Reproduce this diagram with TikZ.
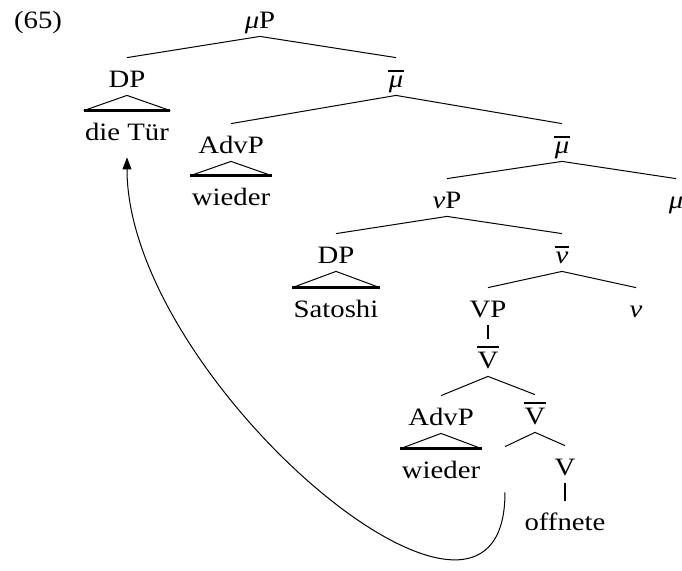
\documentclass[tikz,border=0pt]{standalone}
\usepackage{fontspec}
\setmainfont{Liberation Serif}[FakeStretch=1.15]
\usepackage{tikz}
\usetikzlibrary{arrows.meta}

\newcommand{\barlabel}[1]{\leavevmode\vbox{\hrule height 1.4pt\kern 1.6pt\hbox{\kern0.3pt#1\kern0.3pt}}}

\begin{document}
\begin{tikzpicture}[
        x=0.5pt, y=-0.5pt,
        every node/.style={font=\fontsize{12.5}{15}\selectfont},
        lbl/.style={anchor=base, inner xsep=0.5pt, inner ysep=0pt, text height=14.5pt, text depth=4pt},
        branch/.style={line width=0.5pt},
        unary/.style={line width=1.4pt},
        roofbase/.style={line width=1.3pt},
        movearrow/.style={line width=0.5pt, -{Triangle[length=6pt, width=4.5pt]}, shorten <=4pt, shorten >=4.5pt}
        ]
        \useasboundingbox (0,0) rectangle (682,570);

        % Nodes
        \node[anchor=base west] (ex) at (7,28) {(65)};
        \node[lbl] (muP) at (260,28) {\textit{μ}P};
        \node[lbl] (DPa) at (127,87) {DP};
        \node[lbl] (dieTuer) at (127,140) {die Tür};
        \node[lbl] (mubarA) at (396,87) {\barlabel{\textit{μ}}};
        \node[lbl] (AdvPa) at (231,153) {AdvP};
        \node[lbl] (wiederA) at (231,205) {wieder};
        \node[lbl] (mubarB) at (562,153) {\barlabel{\textit{μ}}};
        \node[lbl] (vP) at (447,208) {\textit{ν}P};
        \node[lbl] (muH) at (676,208) {\textit{μ}};
        \node[lbl] (DPb) at (336,263) {DP};
        \node[lbl] (Satoshi) at (336,317) {Satoshi};
        \node[lbl] (vbar) at (562,263) {\barlabel{\textit{ν}}};
        \node[lbl] (VP) at (488,317) {VP};
        \node[lbl] (vH) at (636,317) {\textit{ν}};
        \node[lbl] (Vbar) at (488,368) {\barlabel{V}};
        \node[lbl] (AdvPb) at (441,425) {AdvP};
        \node[lbl] (wiederB) at (441,478) {wieder};
        \node[lbl] (Vbarb) at (535,424) {\barlabel{V}};
        \node[lbl] (trace) at (505,476) {};
        \node[lbl] (VH) at (565,475) {V};
        \node[lbl] (offnete) at (565,530) {offnete};

        % Branches
        \draw[branch] (muP.south) -- (DPa.north) (muP.south) -- (mubarA.north);
        \draw[branch] (mubarA.south) -- (AdvPa.north) (mubarA.south) -- (mubarB.north);
        \draw[branch] (mubarB.south) -- (vP.north) (mubarB.south) -- (muH.north);
        \draw[branch] (vP.south) -- (DPb.north) (vP.south) -- (vbar.north);
        \draw[branch] (vbar.south) -- (VP.north) (vbar.south) -- (vH.north);
        \draw[branch] (Vbar.south) -- (AdvPb.north) (Vbar.south) -- (Vbarb.north);
        \draw[branch] (Vbarb.south) -- (trace.north) (Vbarb.south) -- (VH.north);
        \draw[unary] (VP.south) -- (Vbar.north);
        \draw[unary] (VH.south) -- (offnete.north);

        % Roofs
        \draw[branch] (dieTuer.north west) -- (DPa.south) -- (dieTuer.north east);
        \draw[roofbase] (dieTuer.north west) -- (dieTuer.north east);
        \draw[branch] (wiederA.north west) -- (AdvPa.south) -- (wiederA.north east);
        \draw[roofbase] (wiederA.north west) -- (wiederA.north east);
        \draw[branch] (Satoshi.north west) -- (DPb.south) -- (Satoshi.north east);
        \draw[roofbase] (Satoshi.north west) -- (Satoshi.north east);
        \draw[branch] (wiederB.north west) -- (AdvPb.south) -- (wiederB.north east);
        \draw[roofbase] (wiederB.north west) -- (wiederB.north east);

        % Movement
        \draw[movearrow] (trace.south) .. controls +(0,216) and +(0,232) .. (dieTuer.south);
    \end{tikzpicture}
\end{document}
